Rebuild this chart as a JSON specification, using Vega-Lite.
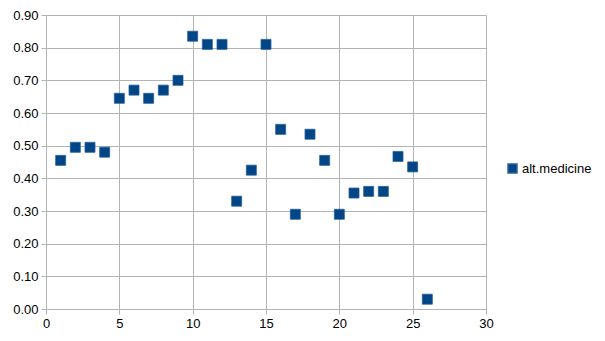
{
  "$schema": "https://vega.github.io/schema/vega-lite/v6.json",
  "width": 440,
  "height": 294,
  "autosize": {"type": "none"},
  "padding": {"left": 46, "top": 15, "right": 119, "bottom": 32},
  "background": "#ffffff",
  "config": {
    "view": {"stroke": null},
    "font": "Liberation Sans",
    "axis": {
      "gridColor": "#b3b3b3",
      "domainColor": "#b3b3b3",
      "tickColor": "#b3b3b3",
      "tickSize": 5,
      "labelFont": "Liberation Sans",
      "labelFontSize": 13,
      "labelColor": "#000000",
      "labelFlush": false,
      "title": null
    }
  },
  "data": {
    "values": [
      {"x": 1, "y": 0.455, "series": "alt.medicine"},
      {"x": 2, "y": 0.495, "series": "alt.medicine"},
      {"x": 3, "y": 0.495, "series": "alt.medicine"},
      {"x": 4, "y": 0.48, "series": "alt.medicine"},
      {"x": 5, "y": 0.645, "series": "alt.medicine"},
      {"x": 6, "y": 0.67, "series": "alt.medicine"},
      {"x": 7, "y": 0.645, "series": "alt.medicine"},
      {"x": 8, "y": 0.67, "series": "alt.medicine"},
      {"x": 9, "y": 0.70, "series": "alt.medicine"},
      {"x": 10, "y": 0.835, "series": "alt.medicine"},
      {"x": 11, "y": 0.81, "series": "alt.medicine"},
      {"x": 12, "y": 0.81, "series": "alt.medicine"},
      {"x": 13, "y": 0.33, "series": "alt.medicine"},
      {"x": 14, "y": 0.425, "series": "alt.medicine"},
      {"x": 15, "y": 0.81, "series": "alt.medicine"},
      {"x": 16, "y": 0.55, "series": "alt.medicine"},
      {"x": 17, "y": 0.29, "series": "alt.medicine"},
      {"x": 18, "y": 0.535, "series": "alt.medicine"},
      {"x": 19, "y": 0.455, "series": "alt.medicine"},
      {"x": 20, "y": 0.29, "series": "alt.medicine"},
      {"x": 21, "y": 0.355, "series": "alt.medicine"},
      {"x": 22, "y": 0.36, "series": "alt.medicine"},
      {"x": 23, "y": 0.36, "series": "alt.medicine"},
      {"x": 24, "y": 0.467, "series": "alt.medicine"},
      {"x": 25, "y": 0.435, "series": "alt.medicine"},
      {"x": 26, "y": 0.03, "series": "alt.medicine"}
    ]
  },
  "mark": {"type": "point", "shape": "square", "filled": true, "size": 100, "opacity": 1, "stroke": "#2a5f97", "strokeWidth": 0.8},
  "encoding": {
    "x": {
      "field": "x", "type": "quantitative",
      "scale": {"domain": [0, 30], "nice": false, "zero": true},
      "axis": {"values": [0, 5, 10, 15, 20, 25, 30], "labelPadding": 3}
    },
    "y": {
      "field": "y", "type": "quantitative",
      "scale": {"domain": [0, 0.9], "nice": false},
      "axis": {"values": [0, 0.1, 0.2, 0.3, 0.4, 0.5, 0.6, 0.7, 0.8, 0.9], "format": ".2f", "labelPadding": 3}
    },
    "color": {
      "field": "series", "type": "nominal",
      "scale": {"range": ["#004586"]},
      "legend": {
        "title": null,
        "orient": "none",
        "legendX": 460,
        "legendY": 147,
        "symbolType": "square",
        "symbolSize": 80,
        "labelFont": "Liberation Sans",
        "labelFontSize": 13,
        "labelColor": "#000000",
        "labelOffset": 3
      }
    }
  }
}
